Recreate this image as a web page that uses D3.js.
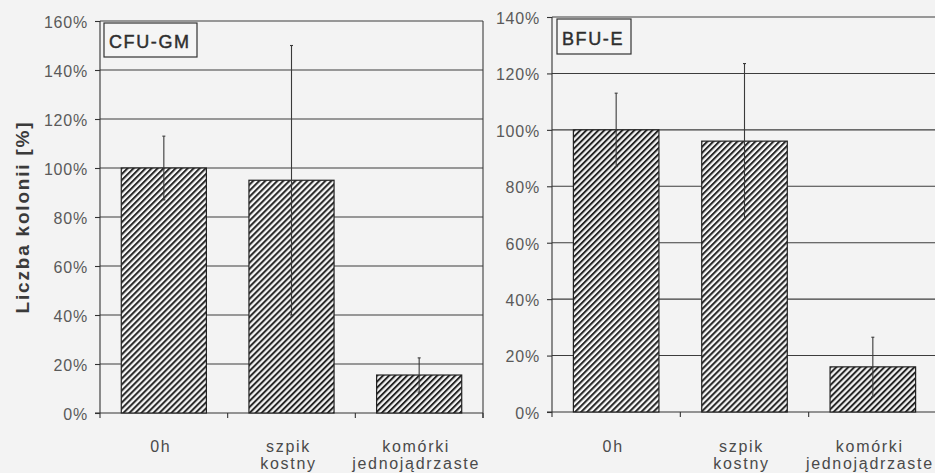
<!DOCTYPE html>
<html>
<head>
<meta charset="utf-8">
<script src="https://cdn.jsdelivr.net/npm/d3@7"></script>
<style>
  html, body { margin: 0; padding: 0; background: #f3f3f3; }
  svg { display: block; }
  text { font-family: "Liberation Sans", Arial, sans-serif; }
</style>
</head>
<body>
<svg id="chart" width="935" height="473"></svg>
<script>
// Category labels (each split into display lines)
const categories = ["0h", "szpik kostny", "komórki jednojądrzaste"];
const categoryLines = [["0h"], ["szpik", "kostny"], ["komórki", "jednojądrzaste"]];

// CFU-GM colony counts [%] with standard deviation
const cfuValues = [100, 95, 15.5];
const cfuErrors = [13, 55, 7];

// BFU-E colony counts [%] with standard deviation
const bfuValues = [100, 96, 16];
const bfuErrors = [13, 27.5, 10.5];

// Y axis ticks of each panel
const cfuTicks = [0, 20, 40, 60, 80, 100, 120, 140, 160];
const bfuTicks = [0, 20, 40, 60, 80, 100, 120, 140];

const yTitle = "Liczba kolonii [%]";

const svg = d3.select("#chart");

// diagonal hatch fill for the bars
const defs = svg.append("defs");
const pat = defs.append("pattern")
  .attr("id", "hatch")
  .attr("patternUnits", "userSpaceOnUse")
  .attr("width", 4.25).attr("height", 10)
  .attr("patternTransform", "rotate(45)");
pat.append("rect").attr("width", 4.25).attr("height", 10).attr("fill", "#f6f6f6");
pat.append("rect").attr("width", 2).attr("height", 10).attr("fill", "#262626");

function panel(opts) {
  const { x0, x1, yTop, yBottom, max, ticks, values, errors, label, box } = opts;
  const g = svg.append("g");

  const x = d3.scaleBand()
    .domain(categories)
    .range([x0, x1])
    .paddingInner(1 / 3)
    .paddingOuter(1 / 6);
  const y = d3.scaleLinear().domain([0, max]).range([yBottom, yTop]);
  const step = x.step();

  // horizontal gridlines
  g.append("g").selectAll("line")
    .data(ticks.filter(t => t > 0))
    .join("line")
    .attr("x1", x0).attr("x2", x1)
    .attr("y1", d => y(d)).attr("y2", d => y(d))
    .attr("stroke", "#3c3c3c").attr("stroke-width", 1.1);

  // right border of the plot area
  g.append("line")
    .attr("x1", x1).attr("x2", x1)
    .attr("y1", y(max)).attr("y2", y(0) + 5)
    .attr("stroke", "#3c3c3c").attr("stroke-width", 1.1);

  // y axis
  const yAxis = d3.axisLeft(y)
    .tickValues(ticks)
    .tickSize(5)
    .tickPadding(7)
    .tickFormat(d => d + "%");
  const ya = g.append("g")
    .attr("transform", `translate(${x0},0)`)
    .call(yAxis);
  ya.select(".domain").attr("stroke", "#333").attr("stroke-width", 1.1)
    .attr("d", `M-5,${y(0)}H0V${y(max)}M0,${y(0)}V${y(0) + 5}`);
  ya.selectAll(".tick line").attr("stroke", "#333").attr("stroke-width", 1.1);
  ya.selectAll(".tick text")
    .attr("fill", "#5a5a5a")
    .attr("font-size", 16)
    .attr("letter-spacing", 0.8)
    .attr("dy", "0.4em");

  // x axis baseline and category separators
  g.append("line")
    .attr("x1", x0).attr("x2", x1)
    .attr("y1", y(0)).attr("y2", y(0))
    .attr("stroke", "#333").attr("stroke-width", 1.1);
  g.append("g").selectAll("line")
    .data(d3.range(1, categories.length + 1))
    .join("line")
    .attr("x1", i => x0 + i * step).attr("x2", i => x0 + i * step)
    .attr("y1", y(0)).attr("y2", y(0) + 5)
    .attr("stroke", "#333").attr("stroke-width", 1.1);

  // bars
  g.append("g").selectAll("rect")
    .data(values)
    .join("rect")
    .attr("x", (d, i) => x(categories[i]))
    .attr("width", x.bandwidth())
    .attr("y", d => y(d))
    .attr("height", d => y(0) - y(d))
    .attr("fill", "url(#hatch)")
    .attr("stroke", "#222")
    .attr("stroke-width", 1.2);

  // error bars
  const eg = g.append("g").attr("stroke", "#3a3a3a").attr("stroke-width", 1.1);
  values.forEach((v, i) => {
    const cx = x(categories[i]) + x.bandwidth() / 2;
    const hi = y(v + errors[i]);
    const lo = y(v - errors[i]);
    eg.append("line").attr("x1", cx).attr("x2", cx).attr("y1", hi).attr("y2", lo);
    eg.append("line").attr("x1", cx - 1.5).attr("x2", cx + 1.5).attr("y1", hi).attr("y2", hi);
    eg.append("line").attr("x1", cx - 1.5).attr("x2", cx + 1.5).attr("y1", lo).attr("y2", lo);
  });

  // category labels
  const lg = g.append("g")
    .attr("fill", "#4a4a4a")
    .attr("font-size", 16)
    .attr("letter-spacing", 1.7)
    .attr("text-anchor", "middle");
  categoryLines.forEach((lines, i) => {
    const cx = x(categories[i]) + x.bandwidth() / 2 - 3;
    lines.forEach((t, k) => {
      lg.append("text")
        .attr("x", cx)
        .attr("y", 452 + k * 17)
        .text(t);
    });
  });

  // series label box
  g.append("rect")
    .attr("x", x0 + box.dx).attr("y", y(max) + box.dy)
    .attr("width", box.w).attr("height", box.h)
    .attr("fill", "#f5f5f5")
    .attr("stroke", "#333").attr("stroke-width", 1.2);
  g.append("text")
    .attr("x", x0 + box.dx + 5).attr("y", y(max) + box.dy + box.h - 9)
    .attr("font-size", 18)
    .attr("letter-spacing", 1.6)
    .attr("fill", "#2e2e2e")
    .attr("stroke", "#2e2e2e").attr("stroke-width", 0.45)
    .text(label);
}

panel({
  x0: 100, x1: 483, yTop: 21, yBottom: 413, max: 160,
  ticks: cfuTicks, values: cfuValues, errors: cfuErrors,
  label: "CFU-GM", box: { dx: 4, dy: 2, w: 93, h: 34 }
});

panel({
  x0: 552, x1: 937, yTop: 17, yBottom: 412, max: 140,
  ticks: bfuTicks, values: bfuValues, errors: bfuErrors,
  label: "BFU-E", box: { dx: 5, dy: 2, w: 74, h: 35 }
});

// shared y axis title
svg.append("text")
  .attr("transform", "translate(29,217) rotate(-90)")
  .attr("text-anchor", "middle")
  .attr("font-size", 19)
  .attr("font-weight", "bold")
  .attr("letter-spacing", 1.8)
  .attr("fill", "#3a3a3a")
  .text(yTitle);
</script>
</body>
</html>
